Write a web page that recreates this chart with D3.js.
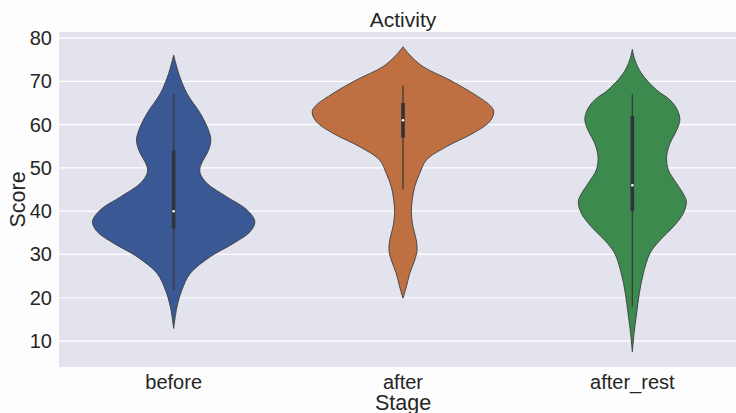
<!DOCTYPE html>
<html>
<head>
<meta charset="utf-8">
<script src="https://cdn.jsdelivr.net/npm/d3@7"></script>
<style>
  html, body { margin: 0; padding: 0; background: #fdfdfd; }
  svg { display: block; }
  text { font-family: "Liberation Sans", Arial, sans-serif; fill: #262626; }
</style>
</head>
<body>
<svg id="chart" width="736" height="413"></svg>
<script>
// Stages on the x axis
const stages = ["before", "after", "after_rest"];
const stageColors = ["#3a5894", "#bf7043", "#3d8a4f"];

// Violin outlines: score level and relative kernel density (1 = widest)
const beforeScore   = [76.1, 71.8, 67.2, 62.6, 58.7, 56.4, 54.1, 50.3, 48.7, 46.4, 43.3, 40.3, 37.6, 35.3, 32.6, 29.5, 25.6, 21.8, 17.9, 12.9];
const beforeDensity = [0, 0.055, 0.145, 0.29, 0.38, 0.405, 0.38, 0.29, 0.29, 0.365, 0.58, 0.80, 0.885, 0.835, 0.655, 0.40, 0.18, 0.09, 0.036, 0];

const afterScore   = [78.0, 76.1, 73.4, 70.3, 67.2, 64.5, 63.0, 60.7, 58.0, 54.9, 51.8, 48.7, 45.7, 42.6, 39.5, 36.4, 33.3, 31.0, 28.7, 25.6, 22.5, 19.9];
const afterDensity = [0, 0.073, 0.218, 0.51, 0.763, 0.945, 0.99, 0.945, 0.763, 0.472, 0.254, 0.182, 0.128, 0.101, 0.091, 0.109, 0.145, 0.153, 0.128, 0.073, 0.036, 0];

const afterRestScore   = [77.4, 74.9, 71.8, 68.0, 65.7, 63.4, 61.1, 58.7, 55.7, 52.6, 49.5, 46.4, 43.7, 42.2, 39.5, 36.4, 33.3, 30.3, 25.6, 21.0, 16.4, 11.8, 7.5];
const afterRestDensity = [0, 0.029, 0.101, 0.265, 0.411, 0.491, 0.518, 0.483, 0.411, 0.374, 0.393, 0.483, 0.564, 0.589, 0.556, 0.447, 0.302, 0.193, 0.12, 0.076, 0.047, 0.019, 0];

// Box summaries per stage: whisker low, Q1, median, Q3, whisker high
const whiskerLow  = [21.8, 45, 18];
const quartile1   = [36, 57, 40];
const medians     = [40, 61, 46];
const quartile3   = [54, 65, 62];
const whiskerHigh = [67, 69, 67];

// Y axis ticks
const yTicks = [10, 20, 30, 40, 50, 60, 70, 80];

const profiles = [
  { score: beforeScore, density: beforeDensity },
  { score: afterScore, density: afterDensity },
  { score: afterRestScore, density: afterRestDensity }
];

const svg = d3.select("#chart");
const margin = { left: 59, top: 32, bottom: 46 };
const plotW = 688;
const plotH = 413 - margin.top - margin.bottom;

const x = d3.scaleBand().domain(stages).range([margin.left, margin.left + plotW]).padding(0);
const y = d3.scaleLinear().domain([4.0, 81.4]).range([margin.top + plotH, margin.top]);
// half of 0.8 band width for full density
const w = d3.scaleLinear().domain([0, 1]).range([0, x.bandwidth() * 0.4]);

// plot background
svg.append("rect")
  .attr("x", margin.left).attr("y", margin.top)
  .attr("width", plotW).attr("height", plotH)
  .attr("fill", "#e3e3ee");

// grid
svg.append("g").selectAll("line").data(yTicks).join("line")
  .attr("x1", margin.left).attr("x2", margin.left + plotW)
  .attr("y1", d => y(d)).attr("y2", d => y(d))
  .attr("stroke", "#ffffff").attr("stroke-width", 1.2);

// y tick labels
const yAxis = d3.axisLeft(y).tickValues(yTicks).tickSize(0).tickPadding(7);
const gy = svg.append("g").attr("transform", `translate(${margin.left},0)`).call(yAxis);
gy.select(".domain").remove();
gy.selectAll("text").attr("font-size", 20).attr("fill", "#262626")
  .style("font-family", "'Liberation Sans', Arial, sans-serif");

// x tick labels
const xAxis = d3.axisBottom(x).tickSize(0).tickPadding(8);
const gx = svg.append("g").attr("transform", `translate(0,${margin.top + plotH})`).call(xAxis);
gx.select(".domain").remove();
gx.selectAll("text").attr("font-size", 20).attr("fill", "#262626")
  .style("font-family", "'Liberation Sans', Arial, sans-serif");

// violins
const violins = svg.append("g");
profiles.forEach((p, i) => {
  const cx = x(stages[i]) + x.bandwidth() / 2;
  const pts = p.score.map((s, k) => ({ s, d: p.density[k] }));
  const area = d3.area()
    .y(d => y(d.s))
    .x0(d => cx - w(d.d))
    .x1(d => cx + w(d.d))
    .curve(d3.curveCatmullRom.alpha(0.5));
  violins.append("path")
    .attr("d", area(pts))
    .attr("fill", stageColors[i])
    .attr("stroke", "#3c3c3c")
    .attr("stroke-width", 0.9);

  // whisker line
  violins.append("line")
    .attr("x1", cx).attr("x2", cx)
    .attr("y1", y(whiskerLow[i])).attr("y2", y(whiskerHigh[i]))
    .attr("stroke", "#3a3a3a").attr("stroke-width", 1.3);
  // interquartile box
  violins.append("line")
    .attr("x1", cx).attr("x2", cx)
    .attr("y1", y(quartile1[i])).attr("y2", y(quartile3[i]))
    .attr("stroke", "#2f333b").attr("stroke-width", 3.6);
  // median
  violins.append("circle")
    .attr("cx", cx).attr("cy", y(medians[i])).attr("r", 1.3)
    .attr("fill", "#ffffff");
});

// titles
svg.append("text")
  .attr("x", margin.left + plotW / 2).attr("y", 26.5)
  .attr("text-anchor", "middle").attr("font-size", 21)
  .text("Activity");

svg.append("text")
  .attr("x", margin.left + plotW / 2).attr("y", 410)
  .attr("text-anchor", "middle").attr("font-size", 21.5)
  .text("Stage");

svg.append("text")
  .attr("transform", `translate(25,${margin.top + plotH / 2}) rotate(-90)`)
  .attr("text-anchor", "middle").attr("font-size", 21.5)
  .text("Score");
</script>
</body>
</html>
